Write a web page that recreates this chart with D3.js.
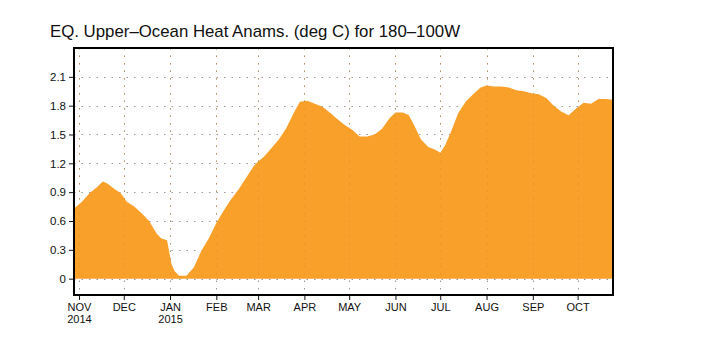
<!DOCTYPE html>
<html>
<head>
<meta charset="utf-8">
<script src="https://cdn.jsdelivr.net/npm/d3@7"></script>
<style>
  body { margin: 0; background: #fff; }
  svg text { font-family: "Liberation Sans", Arial, sans-serif; fill: #111; }
</style>
</head>
<body>
<svg id="chart" width="706" height="351"></svg>
<script>
// heat content anomaly, deg C
var dates = ["2014-10-28","2014-11-03","2014-11-08","2014-11-13","2014-11-17","2014-11-20","2014-11-25","2014-11-29",
  "2014-12-03","2014-12-08","2014-12-13","2014-12-18","2014-12-23","2014-12-26","2014-12-30",
  "2015-01-02","2015-01-04","2015-01-07","2015-01-12","2015-01-17","2015-01-22","2015-01-27",
  "2015-02-01","2015-02-06","2015-02-11","2015-02-16","2015-02-21","2015-02-26",
  "2015-03-01","2015-03-05","2015-03-10","2015-03-15","2015-03-20","2015-03-25","2015-03-29",
  "2015-04-03","2015-04-08","2015-04-13","2015-04-18","2015-04-23","2015-04-28",
  "2015-05-03","2015-05-08","2015-05-13","2015-05-18","2015-05-23","2015-05-28",
  "2015-06-01","2015-06-06","2015-06-10","2015-06-14","2015-06-18","2015-06-23","2015-06-28",
  "2015-07-01","2015-07-04","2015-07-08","2015-07-13","2015-07-18","2015-07-23","2015-07-28",
  "2015-08-01","2015-08-06","2015-08-11","2015-08-16","2015-08-21","2015-08-26","2015-08-31",
  "2015-09-05","2015-09-10","2015-09-15","2015-09-20","2015-09-25","2015-09-30",
  "2015-10-05","2015-10-10","2015-10-15","2015-10-20","2015-10-25"];
var values = [0.72,0.80,0.89,0.95,1.01,0.99,0.93,0.89,
  0.80,0.75,0.68,0.60,0.47,0.42,0.40,
  0.15,0.08,0.03,0.03,0.12,0.29,0.42,
  0.58,0.71,0.83,0.93,1.05,1.17,
  1.22,1.27,1.36,1.45,1.57,1.73,1.84,
  1.85,1.82,1.79,1.73,1.66,1.60,
  1.55,1.48,1.48,1.50,1.56,1.67,
  1.73,1.73,1.70,1.58,1.45,1.37,1.34,
  1.31,1.38,1.52,1.72,1.84,1.92,1.99,
  2.01,2.00,2.00,1.99,1.96,1.95,1.93,
  1.92,1.88,1.80,1.74,1.70,1.77,
  1.83,1.82,1.87,1.87,1.86];

var yTicks = [0, 0.3, 0.6, 0.9, 1.2, 1.5, 1.8, 2.1];
var monthTicks = ["2014-11-01","2014-12-01","2015-01-01","2015-02-01","2015-03-01","2015-04-01",
  "2015-05-01","2015-06-01","2015-07-01","2015-08-01","2015-09-01","2015-10-01"];
var monthLabels = ["NOV","DEC","JAN","FEB","MAR","APR","MAY","JUN","JUL","AUG","SEP","OCT"];
var yearLabels = ["2014","","2015","","","","","","","","",""];

var parse = d3.utcParse("%Y-%m-%d");
var data = dates.map(function (d, i) { return { date: parse(d), value: values[i] }; });
var ticks = monthTicks.map(parse);

var svg = d3.select("#chart"),
    pLeft = 74, pRight = 613, pTop = 48, pBottom = 295;

var x = d3.scaleUtc()
    .domain([new Date(Date.UTC(2014, 9, 28, 16)), new Date(Date.UTC(2015, 9, 24, 17))])
    .range([pLeft, pRight]);
var y = d3.scaleLinear().domain([-0.17, 2.4]).range([pBottom, pTop]);

svg.append("defs").append("clipPath").attr("id", "clip")
    .append("rect").attr("x", pLeft).attr("y", pTop).attr("width", pRight - pLeft).attr("height", pBottom - pTop);

// grid under the fill
var grid = svg.append("g").attr("stroke", "#999").attr("stroke-width", 1).attr("stroke-dasharray", "1.5,6");
grid.selectAll(".gy").data(yTicks).enter().append("line")
    .attr("x1", pLeft).attr("x2", pRight)
    .attr("y1", function (d) { return Math.round(y(d)) + 0.5; })
    .attr("y2", function (d) { return Math.round(y(d)) + 0.5; });
grid.selectAll(".gx").data(ticks).enter().append("line")
    .attr("y1", pTop).attr("y2", pBottom)
    .attr("x1", function (d) { return Math.round(x(d)) + 0.5; })
    .attr("x2", function (d) { return Math.round(x(d)) + 0.5; });

var area = d3.area()
    .x(function (d) { return x(d.date); })
    .y0(y(0))
    .y1(function (d) { return y(d.value); });

svg.append("path")
    .datum(data)
    .attr("clip-path", "url(#clip)")
    .attr("fill", "#f9a02b")
    .attr("d", area);

// faint grid dots showing through the fill
var grid2 = svg.append("g").attr("stroke", "#d08a2a").attr("stroke-opacity", 0.5)
    .attr("stroke-dasharray", "1.5,6").attr("clip-path", "url(#clip)");
grid2.selectAll("line").data(ticks).enter().append("line")
    .attr("y1", pTop).attr("y2", y(0))
    .attr("x1", function (d) { return Math.round(x(d)) + 0.5; })
    .attr("x2", function (d) { return Math.round(x(d)) + 0.5; });

// axes
svg.append("g")
    .attr("transform", "translate(" + pLeft + ",0)")
    .call(d3.axisLeft(y).tickValues(yTicks).tickSize(5).tickPadding(3)
        .tickFormat(function (d) { return d === 0 ? "0" : d3.format(".1f")(d); }))
    .call(function (g) {
        g.select(".domain").remove();
        g.selectAll("line").attr("stroke", "#111");
        g.selectAll("text").attr("font-size", 11.5).attr("fill", "#111");
    });

var xa = svg.append("g")
    .attr("transform", "translate(0," + pBottom + ")")
    .call(d3.axisBottom(x).tickValues(ticks).tickSize(5).tickPadding(3)
        .tickFormat(function (d, i) { return monthLabels[i]; }))
    .call(function (g) {
        g.select(".domain").remove();
        g.selectAll("line").attr("stroke", "#111");
        g.selectAll("text").attr("font-size", 11).attr("fill", "#111").attr("y", 8);
    });
xa.selectAll(".tick").append("text")
    .attr("y", 20).attr("dy", "0.71em")
    .attr("font-size", 11).attr("fill", "#111").attr("text-anchor", "middle")
    .text(function (d, i) { return yearLabels[i]; });

// frame
svg.append("rect")
    .attr("x", pLeft).attr("y", pTop)
    .attr("width", pRight - pLeft).attr("height", pBottom - pTop)
    .attr("fill", "none").attr("stroke", "#000").attr("stroke-width", 2);

svg.append("text")
    .attr("x", 50).attr("y", 37)
    .attr("font-size", 17)
    .attr("textLength", 410).attr("lengthAdjust", "spacingAndGlyphs")
    .text("EQ. Upper\u2013Ocean Heat Anams. (deg C) for 180\u2013100W");
</script>
</body>
</html>
